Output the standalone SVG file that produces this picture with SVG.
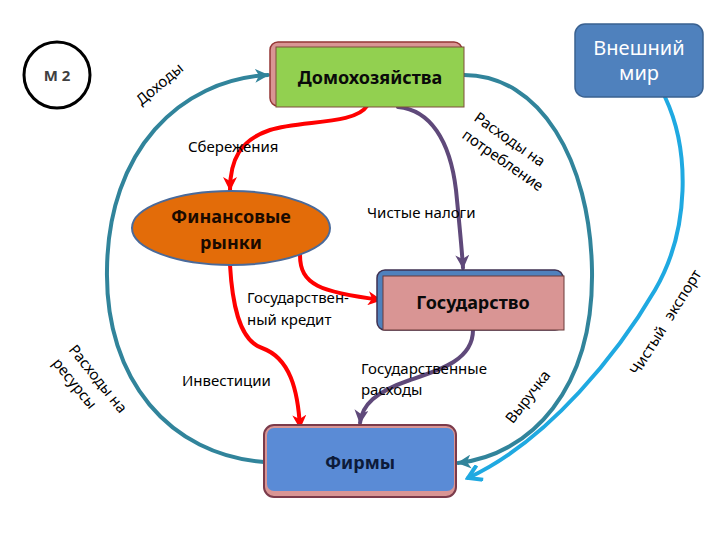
<svg xmlns="http://www.w3.org/2000/svg" width="720" height="540" viewBox="0 0 720 540">
<style>
.lbl{font-family:"Noto Sans","Open Sans",sans-serif;font-size:15px;fill:#000}
.node{font-family:"Noto Sans","Open Sans",sans-serif;font-size:18px;font-weight:bold;text-anchor:middle}
.c{fill:none;stroke-width:4;stroke-linecap:round}
.teal{stroke:#31849b}
.red{stroke:#ff0000}
.purple{stroke:#5f497a}
.sky{stroke:#1fa9e1}
</style>
<defs>
<marker id="aTeal" markerUnits="userSpaceOnUse" markerWidth="16" markerHeight="14" refX="13" refY="7" orient="auto"><path d="M0,0 L14,7 L0,14 L4,7 Z" fill="#31849b"/></marker>
<marker id="aRed" markerUnits="userSpaceOnUse" markerWidth="16" markerHeight="14" refX="13" refY="7" orient="auto"><path d="M0,0 L14,7 L0,14 L4,7 Z" fill="#ff0000"/></marker>
<marker id="aPurple" markerUnits="userSpaceOnUse" markerWidth="16" markerHeight="14" refX="13" refY="7" orient="auto"><path d="M0,0 L14,7 L0,14 L4,7 Z" fill="#5f497a"/></marker>
<marker id="aSky" markerUnits="userSpaceOnUse" markerWidth="18" markerHeight="18" refX="15" refY="9" orient="auto"><path d="M2,1 L15,9 L2,17" fill="none" stroke="#1fa9e1" stroke-width="4"/></marker>
</defs>
<rect width="720" height="540" fill="#fff"/>

<g id="connectors">
<path id="c-income" class="c teal" d="M264,462 C170,455 105,380 107,270 C108,150 180,80 268,75" marker-end="url(#aTeal)"/>
<path id="c-consumption" class="c teal" d="M464,75 C540,75 590,160 592,270 C594,390 530,455 458,463" marker-end="url(#aTeal)"/>
<path id="c-savings" class="c red" d="M367,106 C355,125 300,120 270,130 C240,140 230,160 230,190" marker-end="url(#aRed)"/>
<path id="c-taxes" class="c purple" d="M398,107 C430,110 450,140 456,190 C460,230 462,250 463,268" marker-end="url(#aPurple)"/>
<path id="c-credit" class="c red" d="M300,255 C300,285 320,292 381,300" marker-end="url(#aRed)"/>
<path id="c-invest" class="c red" d="M230,265 C232,300 238,340 262,348 C290,358 298,390 300,428" marker-end="url(#aRed)"/>
<path id="c-gov" class="c purple" d="M473,330 C473,360 440,370 410,380 C375,392 362,405 360,423" marker-end="url(#aPurple)"/>
<path id="c-export" class="c sky" d="M665,97 C690,150 690,230 655,290 C620,350 550,440 468,478" marker-end="url(#aSky)"/>
</g>

<g id="labels">
<text class="lbl" font-size="16" text-anchor="middle" transform="translate(163,88) rotate(-40)">Доходы</text>
<text class="lbl" x="188" y="152">Сбережения</text>
<text class="lbl" x="367" y="218">Чистые налоги</text>
<text class="lbl" x="247" y="303">Государствен-</text>
<text class="lbl" x="247" y="325">ный кредит</text>
<text class="lbl" x="182" y="386">Инвестиции</text>
<text class="lbl" x="361" y="374">Государственные</text>
<text class="lbl" x="361" y="395">расходы</text>
<g transform="translate(473,120) rotate(35)"><text class="lbl" font-size="16" x="0" y="0">Расходы на</text><text class="lbl" font-size="16" x="0" y="21">потребление</text></g>
<g transform="translate(68,350) rotate(51)"><text class="lbl" font-size="16" x="0" y="0">Расходы на</text><text class="lbl" font-size="16" x="0" y="21">ресурсы</text></g>
<text class="lbl" font-size="16" text-anchor="middle" transform="translate(532,400) rotate(-52)">Выручка</text>
<text class="lbl" font-size="16" text-anchor="middle" word-spacing="6" transform="translate(670,325) rotate(-58)">Чистый экспорт</text>
</g>

<g id="m2">
<circle cx="57" cy="75" r="33" fill="#fff" stroke="#000" stroke-width="3"/>
<text x="57" y="81" text-anchor="middle" font-family="Noto Sans, sans-serif" font-size="15" font-weight="bold" fill="#404040">М 2</text>
</g>

<g id="households">
<rect x="270" y="42" width="192" height="64" rx="8" fill="#d99594" stroke="#943634" stroke-width="1.5"/>
<rect x="276" y="47" width="188" height="60" fill="#92d050" stroke="#7f4f3a" stroke-width="1"/>
<text class="node" x="370" y="84" fill="#0a0a0a">Домохозяйства</text>
</g>

<g id="world">
<rect x="575" y="24" width="128" height="73" rx="10" fill="#4f81bd" stroke="#3a6190" stroke-width="1.5"/>
<text x="639" y="55" text-anchor="middle" font-family="Noto Sans, sans-serif" font-size="20" fill="#fff">Внешний</text>
<text x="639" y="80" text-anchor="middle" font-family="Noto Sans, sans-serif" font-size="20" fill="#fff">мир</text>
</g>

<g id="finance">
<ellipse cx="231" cy="228" rx="99" ry="37" fill="#e36c09" stroke="#4a6a9a" stroke-width="2"/>
<text class="node" x="231" y="223" fill="#1a0a00">Финансовые</text>
<text class="node" x="231" y="249" fill="#1a0a00">рынки</text>
</g>

<g id="government">
<rect x="377" y="270" width="186" height="60" rx="8" fill="#4f81bd" stroke="#3f3151" stroke-width="1.5"/>
<rect x="383" y="276" width="181" height="54" fill="#d99594" stroke="#6b3a3a" stroke-width="1"/>
<text class="node" x="473" y="309" fill="#0a0a0a">Государство</text>
</g>

<g id="firms">
<rect x="264" y="425" width="192" height="72" rx="10" fill="#d99594" stroke="#7b3b4b" stroke-width="2"/>
<rect x="267" y="428" width="187" height="63" rx="7" fill="#5a8bd6"/>
<text class="node" x="360" y="469" fill="#0d1b3a">Фирмы</text>
</g>
</svg>
